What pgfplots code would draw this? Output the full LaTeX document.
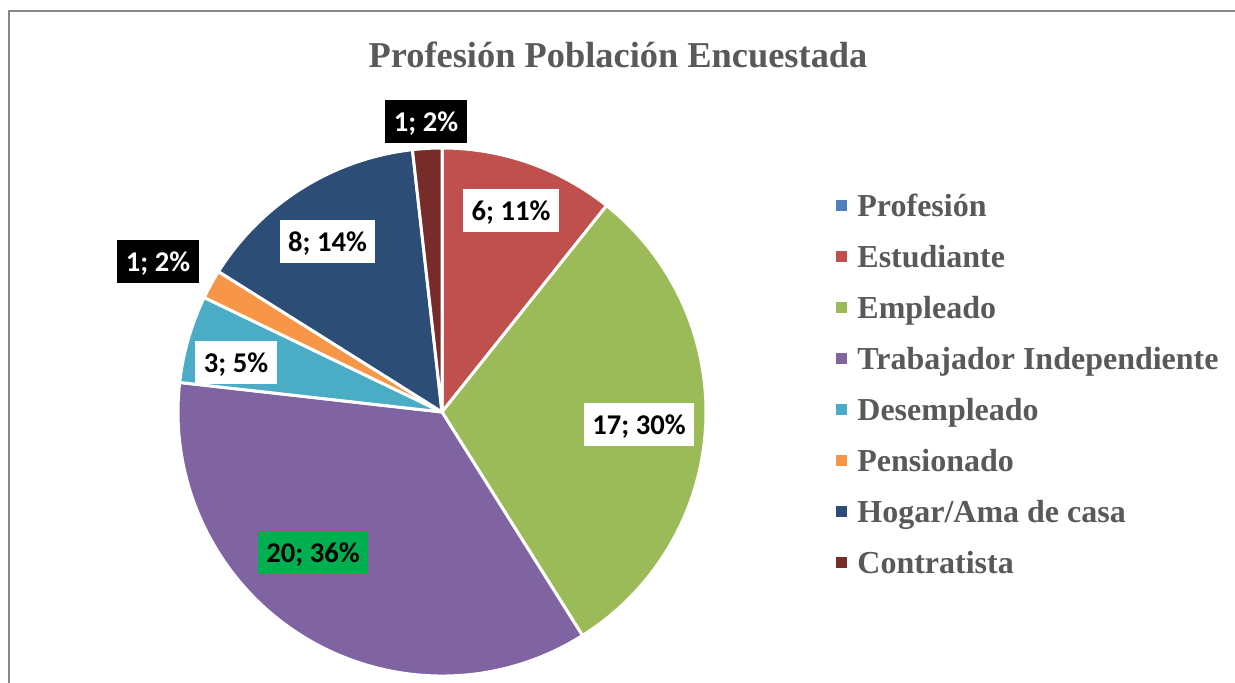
\documentclass[border=0pt]{standalone}
\usepackage{fontspec}
\setmainfont{Liberation Serif}
\newfontfamily\carlito{Carlito}
\usepackage{pgfplots}
\usepackage{pgfplotstable}
\pgfplotsset{compat=1.18}
\definecolor{slice0}{HTML}{4F81BD}
\definecolor{slice1}{HTML}{C0504D}
\definecolor{slice2}{HTML}{9BBB59}
\definecolor{slice3}{HTML}{8064A2}
\definecolor{slice4}{HTML}{4BACC6}
\definecolor{slice5}{HTML}{F79646}
\definecolor{slice6}{HTML}{2C4D75}
\definecolor{slice7}{HTML}{772C2A}
\definecolor{txtgray}{HTML}{595959}
\definecolor{framegray}{HTML}{868686}
\definecolor{labgreen}{HTML}{00B050}

% value, label centre (x, y) in pixel units of the chart (y upward)
\pgfplotstableread{
value lx ly
0 0 0
6 511 471.5
17 639 258
20 313 129.5
3 236 320
1 158 421
8 327.5 441
1 426 561
}\datatable

\tikzset{
  labbase/.style={font=\fontsize{14.3}{16}\selectfont\carlito\bfseries, inner xsep=4.3pt, inner ysep=0pt, minimum height=21.5pt, text height=10pt, text depth=0pt},
  labW/.style={labbase, fill=white, text=black},
  labK/.style={labbase, fill=black, text=white},
  labG/.style={labbase, fill=labgreen, text=black},
  lab1/.style={labW}, lab2/.style={labW}, lab3/.style={labG}, lab4/.style={labW},
  lab5/.style={labK}, lab6/.style={labW}, lab7/.style={labK},
}

\begin{document}
\begin{tikzpicture}
% totals and angles from the data
\def\total{0}
\pgfplotsforeachungrouped \i in {0,...,7}{%
  \pgfplotstablegetelem{\i}{value}\of\datatable
  \pgfmathsetmacro\total{\total+\pgfplotsretval}%
}
\def\cum{0}
\pgfplotsforeachungrouped \i in {0,...,7}{%
  \pgfplotstablegetelem{\i}{value}\of\datatable
  \let\v\pgfplotsretval
  \pgfmathsetmacro\sa{90-\cum/\total*360}%
  \pgfmathsetmacro\cum{\cum+\v}%
  \pgfmathsetmacro\ea{90-\cum/\total*360}%
  \pgfmathtruncatemacro\pct{round(\v/\total*100)}%
  \expandafter\xdef\csname sa\i\endcsname{\sa}%
  \expandafter\xdef\csname ea\i\endcsname{\ea}%
  \expandafter\xdef\csname lab\i\endcsname{\v; \pct\noexpand\%}%
  \pgfplotstablegetelem{\i}{lx}\of\datatable
  \expandafter\xdef\csname lx\i\endcsname{\pgfplotsretval}%
  \pgfplotstablegetelem{\i}{ly}\of\datatable
  \expandafter\xdef\csname ly\i\endcsname{\pgfplotsretval}%
}
\begin{axis}[
  hide axis, scale only axis, width=617.5pt, height=341pt,
  xmin=0, xmax=1235, ymin=0, ymax=682, clip=false,
  legend cell align=left,
  legend image code/.code={\fill[#1] (0pt,-1.25pt) rectangle (5.5pt,4.25pt);},
  legend style={at={(axis cs:836,489)}, anchor=north west, draw=none, fill=none,
    inner sep=0pt, font=\fontsize{16}{19}\selectfont\bfseries, text=txtgray,
    row sep=10pt, nodes={inner sep=0pt, text height=11.5pt, text depth=4pt},
    /tikz/every odd column/.style={column sep=5pt}},
]
\pgfplotsinvokeforeach{1,...,7}{%
  \path[fill=slice#1, draw=white, line width=1.5pt, line join=round]
    (axis cs:442,270) -- ++(\csname sa#1\endcsname:132pt)
    arc[start angle=\csname sa#1\endcsname, end angle=\csname ea#1\endcsname, radius=132pt] -- cycle;
}
\pgfplotsinvokeforeach{1,...,7}{%
  \node[lab#1] at (axis cs:\csname lx#1\endcsname,\csname ly#1\endcsname) {\csname lab#1\endcsname};
}
\node[anchor=base, font=\fontsize{18.2}{21}\selectfont\bfseries, text=txtgray] at (axis cs:618,615) {Profesión Población Encuestada};
\addlegendimage{fill=slice0, draw=none}\addlegendentry{Profesión}
\addlegendimage{fill=slice1, draw=none}\addlegendentry{Estudiante}
\addlegendimage{fill=slice2, draw=none}\addlegendentry{Empleado}
\addlegendimage{fill=slice3, draw=none}\addlegendentry{Trabajador Independiente}
\addlegendimage{fill=slice4, draw=none}\addlegendentry{Desempleado}
\addlegendimage{fill=slice5, draw=none}\addlegendentry{Pensionado}
\addlegendimage{fill=slice6, draw=none}\addlegendentry{Hogar/Ama de casa}
\addlegendimage{fill=slice7, draw=none}\addlegendentry{Contratista}
\end{axis}
\draw[framegray, line width=0.8pt] (4.5pt,-20pt) -- (4.5pt,335.5pt) -- (640pt,335.5pt);
\pgfresetboundingbox
\path[use as bounding box] (0,0) rectangle (617.5pt,341pt);
\end{tikzpicture}
\end{document}
